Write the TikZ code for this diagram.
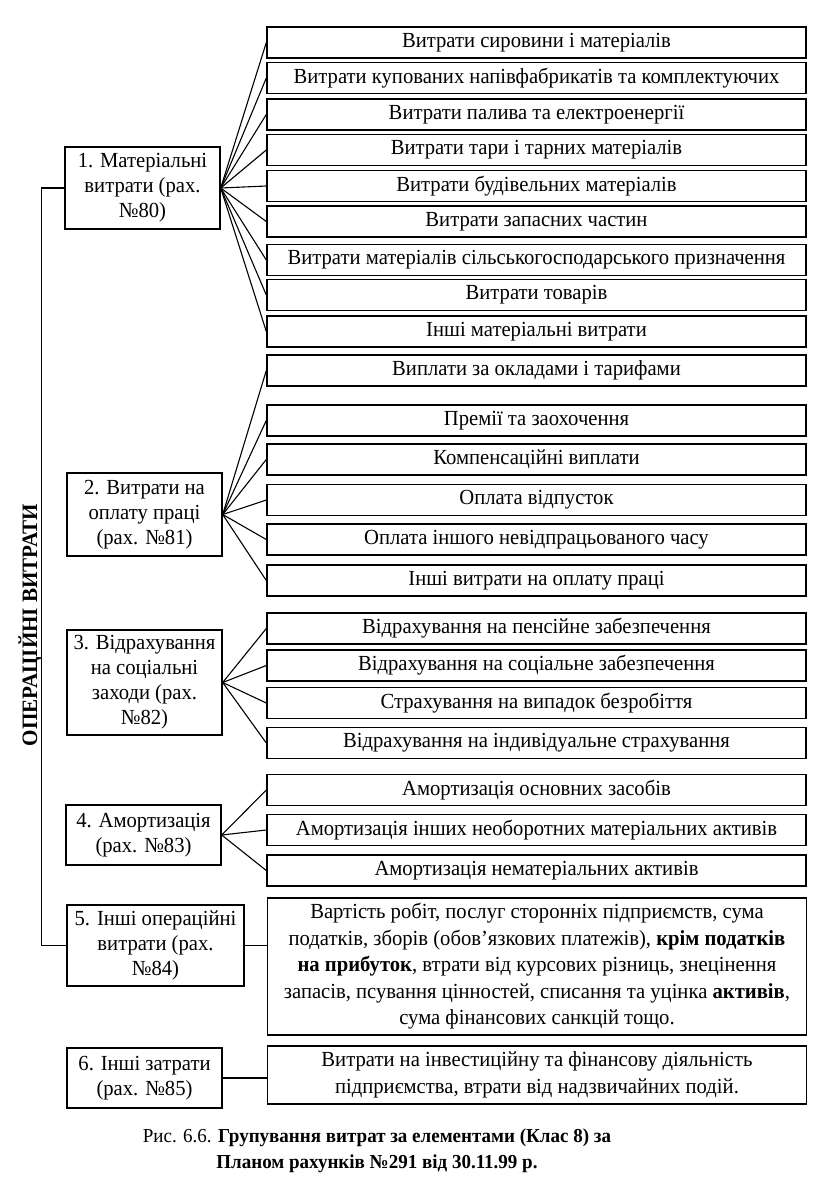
\documentclass[tikz,border=0pt]{standalone}
\usepackage{fontspec}
\setmainfont[FakeStretch=0.96]{Liberation Serif}
\begin{document}
\begin{tikzpicture}[x=1pt,y=-1pt,
  txt/.style={font=\fontsize{21.5}{26.5}\selectfont},
  rbox/.style={txt,draw,line width=1.4pt,minimum width=539pt,minimum height=31pt,inner sep=0pt},
  mbox/.style={rbox,align=center},
  lbox/.style={font=\fontsize{21.5}{25}\selectfont,draw,line width=1.4pt,minimum width=155pt,inner sep=0pt,align=center},
  conn/.style={line width=1.1pt}]
\useasboundingbox (0,0) rectangle (832,1191);
\fill[white] (0,0) rectangle (832,1191);

% left column
\node[lbox,minimum height=82pt] (b1) at (142.5,188) {1. Матеріальні\\витрати (рах.\\№80)};
\node[lbox,minimum height=83pt] (b2) at (144.5,514.5) {2. Витрати на\\оплату праці\\(рах. №81)};
\node[lbox,minimum height=105pt] (b3) at (144.5,682.5) {3. Відрахування\\на соціальні\\заходи (рах.\\№82)};
\node[lbox,minimum height=60pt] (b4) at (143.5,835) {4. Амортизація\\(рах. №83)};
\node[lbox,minimum width=177pt,minimum height=81pt] (b5) at (155.5,945.5) {5. Інші операційні\\витрати (рах.\\№84)};
\node[lbox,minimum height=60pt] (b6) at (144.5,1078) {6. Інші затрати\\(рах. №85)};

% group 1
\node[rbox] (r11) at (536.5,42.5) {Витрати сировини і матеріалів};
\node[rbox] (r12) at (536.5,78) {Витрати купованих напівфабрикатів та комплектуючих};
\node[rbox] (r13) at (536.5,114.5) {Витрати палива та електроенергії};
\node[rbox] (r14) at (536.5,150) {Витрати тари і тарних матеріалів};
\node[rbox] (r15) at (536.5,186) {Витрати будівельних матеріалів};
\node[rbox] (r16) at (536.5,221.5) {Витрати запасних частин};
\node[rbox] (r17) at (536.5,260) {Витрати матеріалів сільськогосподарського призначення};
\node[rbox] (r18) at (536.5,295) {Витрати товарів};
\node[rbox] (r19) at (536.5,331.5) {Інші матеріальні витрати};
% group 2
\node[rbox] (r21) at (536.5,370.5) {Виплати за окладами і тарифами};
\node[rbox] (r22) at (536.5,420.5) {Премії та заохочення};
\node[rbox] (r23) at (536.5,459.5) {Компенсаційні виплати};
\node[rbox] (r24) at (536.5,500) {Оплата відпусток};
\node[rbox] (r25) at (536.5,539.5) {Оплата іншого невідпрацьованого часу};
\node[rbox] (r26) at (536.5,580.5) {Інші витрати на оплату праці};
% group 3
\node[rbox] (r31) at (536.5,628.5) {Відрахування на пенсійне забезпечення};
\node[rbox] (r32) at (536.5,665.5) {Відрахування на соціальне забезпечення};
\node[rbox] (r33) at (536.5,703) {Страхування на випадок безробіття};
\node[rbox] (r34) at (536.5,743) {Відрахування на індивідуальне страхування};
% group 4
\node[rbox] (r41) at (536.5,790) {Амортизація основних засобів};
\node[rbox] (r42) at (536.5,830) {Амортизація інших необоротних матеріальних активів};
\node[rbox] (r43) at (536.5,870.5) {Амортизація нематеріальних активів};
% group 5, 6
\node[mbox,minimum height=137pt] (r5) at (537,966.5) {Вартість робіт, послуг сторонніх підприємств, сума\\податків, зборів (обов’язкових платежів), \textbf{крім податків}\\\textbf{на прибуток}, втрати від курсових різниць, знецінення\\запасів, псування цінностей, списання та уцінка \textbf{активів},\\сума фінансових санкцій тощо.};
\node[mbox,minimum height=58pt] (r6) at (537,1075) {Витрати на інвестиційну та фінансову діяльність\\підприємства, втрати від надзвичайних подій.};

% vertical title
\node[font=\fontsize{22}{26}\selectfont\bfseries,rotate=90,inner sep=0pt] (title) at (30,625) {ОПЕРАЦІЙНІ ВИТРАТИ};

% caption
\node[font=\fontsize{19.8}{26}\selectfont,align=center,inner sep=0pt] (cap) at (377,1151) {Рис. 6.6. \textbf{Групування витрат за елементами (Клас 8) за}\\\textbf{Планом рахунків №291 від 30.11.99 р.}};

% connectors
\foreach \i in {1,...,9} \draw[conn] (b1.east) -- (r1\i.west);
\foreach \i in {1,...,6} \draw[conn] (b2.east) -- (r2\i.west);
\foreach \i in {1,...,4} \draw[conn] (b3.east) -- (r3\i.west);
\foreach \i in {1,...,3} \draw[conn] (b4.east) -- (r4\i.west);
\draw[conn] (b5.east) -- (b5.east -| r5.west);
\draw[conn] (b6.east) -- (b6.east -| r6.west);
\draw[conn] (b1.west) -- ++(-23,0) |- (b5.west);
\end{tikzpicture}
\end{document}
